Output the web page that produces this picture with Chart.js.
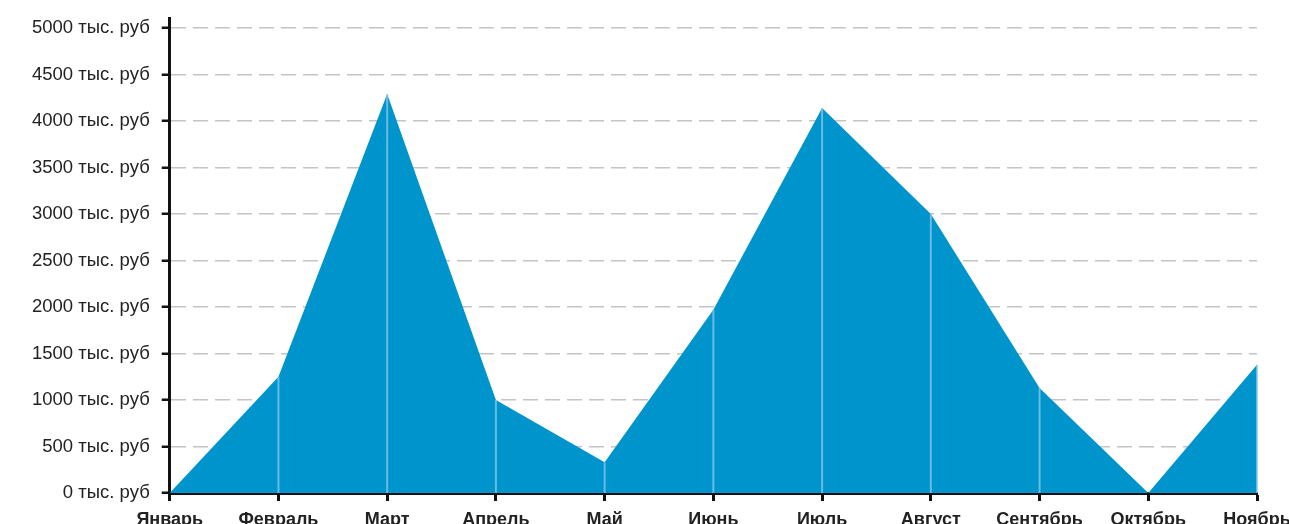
<!DOCTYPE html>
<html lang="ru">
  <head>
    <meta charset="UTF-8" />
    <title>Выручка по месяцам</title>
    <style>
      body {
        margin: 0;
        background-color: #ffffff;
        overflow: hidden;
      }
      .chart {
        position: relative;
        width: 1289px;
        height: 524px;
      }
    </style>
    <script src="https://cdn.jsdelivr.net/npm/chart.js"></script>
  </head>
  <body>
    <div class="chart">
      <canvas id="myChart"></canvas>
    </div>
    <script>
      const months = [
        "Январь", "Февраль", "Март", "Апрель", "Май", "Июнь",
        "Июль", "Август", "Сентябрь", "Октябрь", "Ноябрь"
      ];
      // тыс. руб
      const revenue = [0, 1250, 4290, 1000, 330, 1970, 4140, 3000, 1130, 0, 1380];
      const yTicks = [0, 500, 1000, 1500, 2000, 2500, 3000, 3500, 4000, 4500, 5000];
      const unit = " тыс. руб";

      // light stems from each point down to the axis
      const stems = {
        id: "stems",
        afterDatasetsDraw(chart) {
          const { ctx, chartArea } = chart;
          const meta = chart.getDatasetMeta(0);
          ctx.save();
          ctx.strokeStyle = "rgba(140, 200, 232, 0.75)";
          ctx.lineWidth = 2;
          meta.data.forEach((pt) => {
            if (chartArea.bottom - pt.y < 2) return;
            ctx.beginPath();
            ctx.moveTo(pt.x, pt.y);
            ctx.lineTo(pt.x, chartArea.bottom);
            ctx.stroke();
          });
          ctx.restore();
        }
      };

      const config = {
        type: "line",
        data: {
          labels: months,
          datasets: [
            {
              data: revenue,
              fill: "origin",
              backgroundColor: "#0094cc",
              borderWidth: 0,
              pointRadius: 0,
              tension: 0
            }
          ]
        },
        options: {
          responsive: true,
          maintainAspectRatio: false,
          animation: false,
          layout: { padding: { top: 18, left: 20, right: 32, bottom: 0 } },
          plugins: {
            legend: { display: false },
            tooltip: { enabled: false }
          },
          scales: {
            x: {
              z: 1,
              offset: false,
              border: { color: "#111", width: 3 },
              grid: {
                display: true,
                drawOnChartArea: false,
                drawTicks: true,
                tickLength: 8,
                tickColor: "#111",
                tickWidth: 3
              },
              ticks: {
                color: "#222",
                padding: 8,
                maxRotation: 0,
                autoSkip: false,
                font: { family: "'Liberation Sans', Arial, sans-serif", size: 18, weight: "bold" }
              },
              afterFit(scale) {
                // labels run off the bottom edge, keep the plot low
                scale.height = 31;
                scale.paddingLeft = 0;
                scale.paddingRight = 0;
              }
            },
            y: {
              min: 0,
              max: 5107.5,
              border: { color: "#111", width: 3, dash: [15, 7] },
              grid: {
                color: "#c4c4c4",
                lineWidth: 1.5,
                tickLength: 8,
                tickColor: "#111",
                tickWidth: 2.5,
                tickBorderDash: []
              },
              afterBuildTicks(scale) {
                scale.ticks = yTicks.map((v) => ({ value: v }));
              },
              afterFit(scale) {
                scale.paddingTop = 0;
                scale.paddingBottom = 0;
              },
              ticks: {
                color: "#222",
                padding: 12,
                font: { family: "'Liberation Sans', Arial, sans-serif", size: 18.5 },
                callback: (v) => v + unit
              }
            }
          }
        },
        plugins: [stems]
      };
      const myChart = new Chart(document.getElementById("myChart"), config);
    </script>
  </body>
</html>
